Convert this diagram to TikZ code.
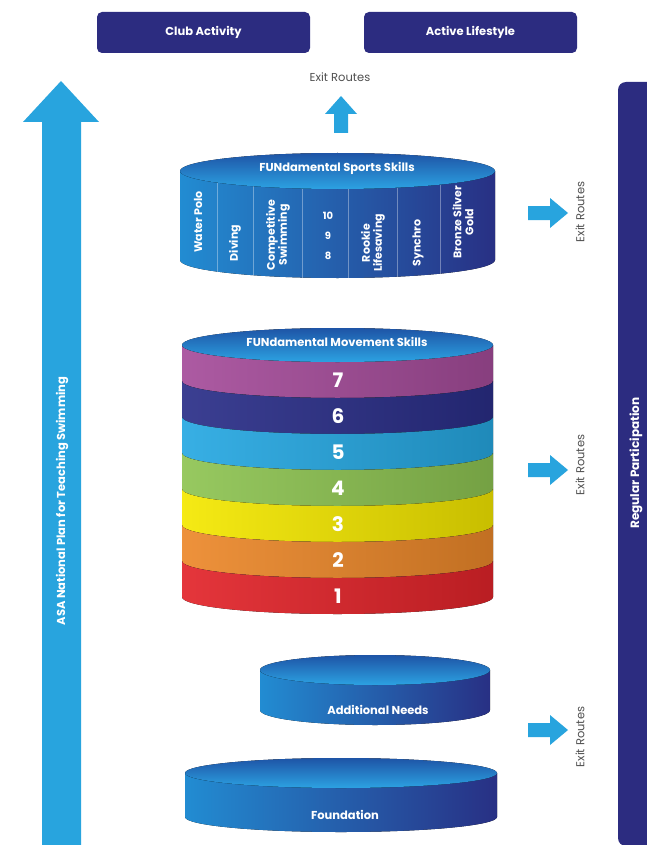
\documentclass[tikz,border=0pt]{standalone}
\usepackage{fontspec}
\setmainfont{Poppins}
\definecolor{navy}{RGB}{44,44,128}
\definecolor{skyb}{RGB}{40,164,222}
\definecolor{cpurple}{RGB}{165,76,154}
\definecolor{cnavy}{RGB}{42,46,136}
\definecolor{ccyan}{RGB}{38,168,226}
\definecolor{cgreen}{RGB}{142,196,82}
\definecolor{cyellow}{RGB}{244,232,0}
\definecolor{corange}{RGB}{236,136,42}
\definecolor{cred}{RGB}{226,36,42}
\definecolor{sideL}{RGB}{34,140,210}
\definecolor{sideR}{RGB}{40,48,132}
\definecolor{topT}{RGB}{30,84,166}
\definecolor{topB}{RGB}{44,162,226}
\definecolor{greytxt}{RGB}{80,80,80}
\tikzset{
  topbox/.style={fill=navy, rounded corners=5pt, text=white, minimum width=213pt, minimum height=41pt, inner sep=0pt, font=\bfseries\fontsize{11.5}{13}\selectfont},
  exitlbl/.style={text=greytxt, inner sep=0pt, font=\fontsize{11.5}{13}\selectfont},
  whitelbl/.style={text=white, inner sep=0pt, font=\bfseries\fontsize{11.5}{13}\selectfont, align=center},
  collbl/.style={text=white, inner sep=0pt, font=\bfseries\fontsize{11}{12}\selectfont, align=center, rotate=90},
  digit/.style={text=white, inner sep=0pt, font=\bfseries\fontsize{20}{22}\selectfont},
  arrowfill/.style={fill=skyb},
  sideshade/.style={left color=sideL, right color=sideR},
  topshade/.style={top color=topT, bottom color=topB},
}
\begin{document}
\begin{tikzpicture}[x=1pt,y=-1pt]
\useasboundingbox (0,0) rectangle (646,845);
\fill[white] (0,0) rectangle (646,845);

% top boxes
\node[topbox] (club) at (203.5,32.5) {Club Activity};
\node[topbox] (active) at (470.5,32.5) {Active Lifestyle};
\node[exitlbl] (ex0) at (340,77) {Exit Routes};
\fill[arrowfill] (334,133) -- (334,114) -- (325,114) -- (341,96) -- (357,114) -- (348,114) -- (348,133) -- cycle;

% left big arrow
\fill[arrowfill] (42,846) -- (42,122) -- (23,122) -- (61,81) -- (99,122) -- (81,122) -- (81,846) -- cycle;
\node[whitelbl, rotate=90] (asa) at (62,501) {ASA National Plan for Teaching Swimming};

% right bar
\fill[navy, rounded corners=8pt] (618,82) rectangle (680,846);
\node[whitelbl, rotate=90, font=\bfseries\fontsize{12}{14}\selectfont] (reg) at (636,463) {Regular Participation};

% right exit arrows
\foreach \yc in {213,470,730}{
  \fill[arrowfill] (528,\yc-7) -- (550,\yc-7) -- (550,\yc-15) -- (568,\yc) -- (550,\yc+15) -- (550,\yc+7) -- (528,\yc+7) -- cycle;
}
\node[exitlbl, rotate=90] (ex1) at (580,212) {Exit Routes};
\node[exitlbl, rotate=90] (ex2) at (580,465) {Exit Routes};
\node[exitlbl, rotate=90] (ex3) at (580,737) {Exit Routes};

% ---------- sports cylinder ----------
\fill[sideshade] (180,171) -- (180,260) arc[start angle=180, end angle=360, x radius=157.5pt, y radius=18pt] -- (495,171) -- cycle;
\foreach \x in {217,253,302,348,397,440}{
  \pgfmathsetmacro\hh{18*sqrt(1-((\x-337.5)/157.5)^2)}
  \draw[white, opacity=0.35, line width=0.6pt] (\x,171+\hh) -- (\x,260+\hh);
}
\fill[topshade] (337.5,171) ellipse[x radius=157.5pt, y radius=18pt];
\node[whitelbl] (fss) at (337,168) {FUNdamental Sports Skills};
\node[collbl] (wp) at (198,222) {Water Polo};
\node[collbl] (dv) at (235,243) {Diving};
\node[collbl] (cs) at (278,235) {Competitive\\Swimming};
\node[text=white, inner sep=0pt, font=\bfseries\fontsize{10}{20}\selectfont, align=center] (ten) at (328,236) {10\\9\\8};
\node[collbl] (rl) at (373,243) {Rookie\\Lifesaving};
\node[collbl] (sy) at (418,243) {Synchro};
\node[collbl] (bsg) at (463,222) {Bronze Silver\\Gold};

% ---------- movement cylinder ----------
\foreach \k/\c in {0/cpurple,1/cnavy,2/ccyan,3/cgreen,4/cyellow,5/corange,6/cred}{
  \pgfmathsetmacro\ya{345+36*\k}
  \pgfmathsetmacro\yb{345+36*(\k+1)}
  \fill[left color=\c!92!white, right color=\c!82!black]
    (182,\yb) arc[start angle=180, end angle=360, x radius=155.5pt, y radius=17pt]
    -- (493,\ya) arc[start angle=360, end angle=180, x radius=155.5pt, y radius=17pt] -- cycle;
}
\fill[topshade] (337.5,345) ellipse[x radius=155.5pt, y radius=17pt];
\node[whitelbl] (fms) at (337,342) {FUNdamental Movement Skills};
\foreach \k/\d in {0/7,1/6,2/5,3/4,4/3,5/2,6/1}{
  \node[digit] (d\d) at (338,380+36*\k) {\d};
}

% ---------- additional needs ----------
\fill[sideshade] (260,670) -- (260,710) arc[start angle=180, end angle=360, x radius=115pt, y radius=15pt] -- (490,670) -- cycle;
\fill[topshade] (375,670) ellipse[x radius=115pt, y radius=15pt];
\node[whitelbl] (addn) at (378,710) {Additional Needs};

% ---------- foundation ----------
\fill[sideshade] (185,773) -- (185,817) arc[start angle=180, end angle=360, x radius=156pt, y radius=15pt] -- (497,773) -- cycle;
\fill[topshade] (341,773) ellipse[x radius=156pt, y radius=15pt];
\node[whitelbl] (fdn) at (345,815) {Foundation};
\end{tikzpicture}
\end{document}
